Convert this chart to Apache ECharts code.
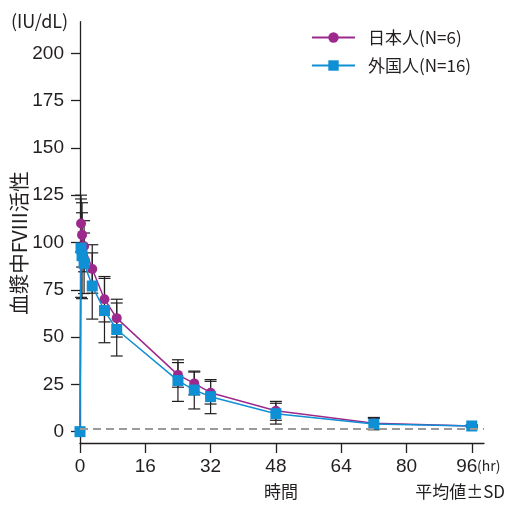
<!DOCTYPE html>
<html><head><meta charset="utf-8">
<script src="https://cdn.jsdelivr.net/npm/echarts@6/dist/echarts.min.js"></script>
<style>html,body{margin:0;padding:0;background:#fff}#c{width:512px;height:506px}</style>
</head><body><div id="c"></div>
<script>
const timesHr = [0, 0.25, 0.5, 1, 3, 6, 9, 24, 28, 32, 48, 72, 96];
const japanMean = [0, 110, 104, 98, 86, 70, 60, 30, 25.5, 20.6, 11, 4.5, 3];
const japanSD = [0, 15, 17, 13.5, 12.8, 12, 10, 6.5, 6, 6, 5, 3, 0.5];
const foreignMean = [0, 97, 93, 89, 77, 64, 54, 27, 22, 18.5, 9.5, 4, 3];
const foreignSD = [0, 26, 22.7, 16, 17.5, 17, 14, 11, 10, 9, 5.5, 3, 0.5];
const seriesNames = ['日本人(N=6)', '外国人(N=16)'];
const yTickValues = [0, 25, 50, 75, 100, 125, 150, 175, 200];
const xTickValues = [0, 16, 32, 48, 64, 80, 96];
const lloqValue = 1.6;

const PURPLE = '#9c2a8d', BLUE = '#0f8fd4', INK = '#231f20';
const CJK = '"Noto Sans CJK JP", "Liberation Sans", sans-serif';
const NUM = '"Liberation Sans", Arial, sans-serif';

function errData(mean, sd) {
  const out = [];
  timesHr.forEach((t, i) => { if (sd[i] > 0) out.push([t, mean[i] - sd[i], mean[i] + sd[i]]); });
  return out;
}
function errRender(params, api) {
  const x = api.value(0), lo = api.value(1), hi = api.value(2);
  const pLo = api.coord([x, lo]), pHi = api.coord([x, hi]);
  const hw = 6;
  const style = { stroke: INK, lineWidth: 1.2, fill: null };
  return { type: 'group', children: [
    { type: 'line', shape: { x1: pLo[0], y1: pLo[1], x2: pHi[0], y2: pHi[1] }, style: style },
    { type: 'line', shape: { x1: pHi[0] - hw, y1: pHi[1], x2: pHi[0] + hw, y2: pHi[1] }, style: style },
    { type: 'line', shape: { x1: pLo[0] - hw, y1: pLo[1], x2: pLo[0] + hw, y2: pLo[1] }, style: style }
  ]};
}

const chart = echarts.init(document.getElementById('c'), null, { renderer: 'canvas' });
chart.setOption({
  animation: false,
  backgroundColor: '#fff',
  grid: { left: 80, right: 28, top: 21.7, bottom: 63 },
  legend: {
    orient: 'vertical', left: 306, top: 24, itemWidth: 43, itemHeight: 13, itemGap: 11,
    data: seriesNames,
    textStyle: { fontFamily: CJK, fontSize: 17, color: INK, padding: [0, 0, 0, 8] }
  },
  xAxis: {
    type: 'value', min: 0, max: 99,
    axisLine: { onZero: false, lineStyle: { color: INK, width: 1.3 } },
    axisTick: { length: 10, customValues: xTickValues, lineStyle: { color: INK, width: 1.3 } },
    axisLabel: {
      customValues: xTickValues, margin: 14, fontFamily: NUM, fontSize: 19, color: INK,
      formatter: function (v) { return v === 96 ? '{s|96}' : String(v); },
      rich: { s: { fontFamily: NUM, fontSize: 19, color: INK, padding: [0, 10, 0, 0] } }
    },
    splitLine: { show: false }
  },
  yAxis: {
    type: 'value', min: -6, max: 216.7,
    axisLine: { show: true, onZero: false, lineStyle: { color: INK, width: 1.3 } },
    axisTick: { show: true, length: 9, customValues: yTickValues, lineStyle: { color: INK, width: 1.3 } },
    axisLabel: { customValues: yTickValues, margin: 16, fontFamily: NUM, fontSize: 19, color: INK },
    splitLine: { show: false }
  },
  graphic: [
    { type: 'text', left: 11, top: 12, style: { text: '(IU/dL)', fontFamily: CJK, fontSize: 18, fill: INK } },
    { type: 'text', x: 19, y: 243, rotation: Math.PI / 2,
      style: { text: '血漿中FVIII活性', fontFamily: CJK, fontSize: 20.5, fill: INK, align: 'center', verticalAlign: 'middle' } },
    { type: 'text', x: 477, y: 466, style: { text: '(hr)', fontFamily: CJK, fontSize: 14, fill: INK, verticalAlign: 'middle' } },
    { type: 'text', x: 281, y: 492, style: { text: '時間', fontFamily: CJK, fontSize: 17, fill: INK, align: 'center', verticalAlign: 'middle' } },
    { type: 'text', x: 505, y: 492, style: { text: '平均値±SD', fontFamily: CJK, fontSize: 17, fill: INK, align: 'right', verticalAlign: 'middle' } }
  ],
  series: [
    { type: 'custom', name: 'errJ', z: 1, renderItem: errRender, encode: { x: 0, y: [1, 2] }, data: errData(japanMean, japanSD) },
    { type: 'custom', name: 'errF', z: 1, renderItem: errRender, encode: { x: 0, y: [1, 2] }, data: errData(foreignMean, foreignSD) },
    {
      type: 'line', name: seriesNames[0], z: 2,
      data: timesHr.map((t, i) => [t, japanMean[i]]),
      symbol: 'circle', symbolSize: 10,
      lineStyle: { color: PURPLE, width: 1.5 }, itemStyle: { color: PURPLE },
      markLine: {
        silent: true, symbol: 'none', label: { show: false },
        lineStyle: { color: '#9a9a9a', type: [8, 5], width: 1.8 },
        data: [{ yAxis: lloqValue }]
      }
    },
    {
      type: 'line', name: seriesNames[1], z: 3,
      data: timesHr.map((t, i) => [t, foreignMean[i]]),
      symbol: 'rect', symbolSize: 11,
      lineStyle: { color: BLUE, width: 1.5 }, itemStyle: { color: BLUE }
    }
  ]
});
</script></body></html>
